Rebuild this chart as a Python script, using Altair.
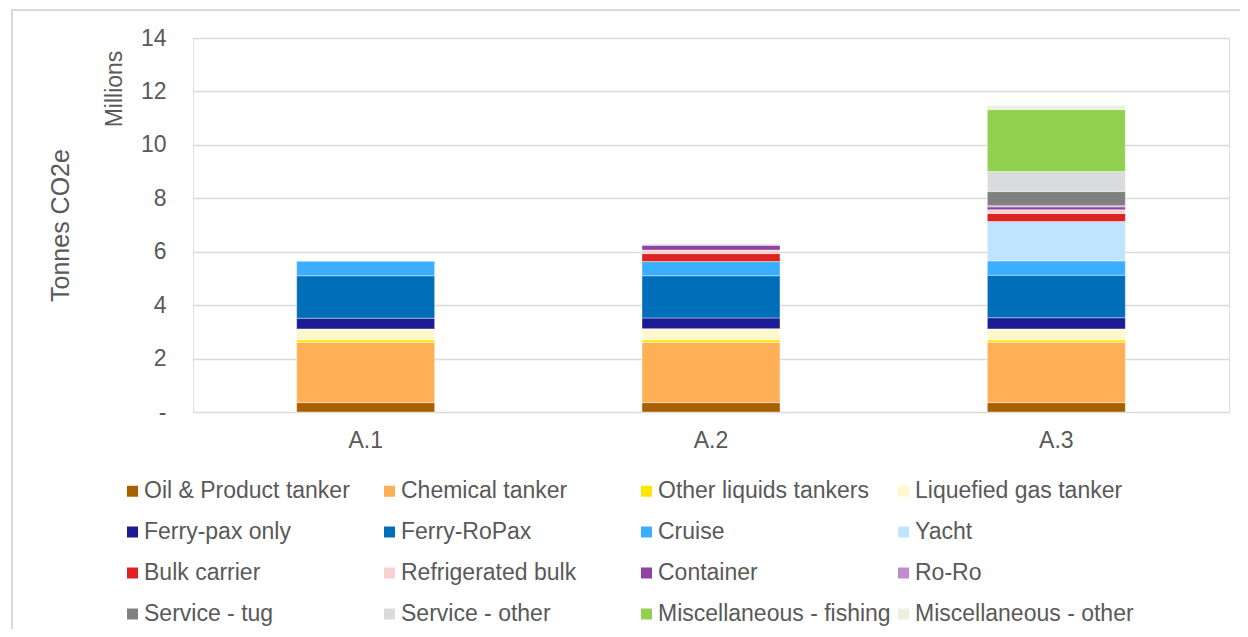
import altair as alt
import pandas as pd

scenarios = ["A.1", "A.2", "A.3"]

categories = [
    "Oil & Product tanker", "Chemical tanker", "Other liquids tankers", "Liquefied gas tanker",
    "Ferry-pax only", "Ferry-RoPax", "Cruise", "Yacht",
    "Bulk carrier", "Refrigerated bulk", "Container", "Ro-Ro",
    "Service - tug", "Service - other", "Miscellaneous - fishing", "Miscellaneous - other",
]

colors = [
    "#A85F00", "#FFB057", "#FFE600", "#FFF8CC",
    "#1C1C94", "#006EB8", "#3BAEFF", "#BFE4FF",
    "#DD2222", "#F8D0D0", "#8E44A0", "#C48AD0",
    "#808080", "#DADBDD", "#92D050", "#EBF1DE",
]

# values in millions of tonnes CO2e for A.1, A.2, A.3
oil_product = [0.35, 0.35, 0.35]
chemical = [2.25, 2.25, 2.26]
other_liquids = [0.10, 0.10, 0.09]
liquefied_gas = [0.41, 0.42, 0.41]
ferry_pax = [0.40, 0.40, 0.42]
ferry_ropax = [1.59, 1.58, 1.59]
cruise = [0.54, 0.53, 0.54]
yacht = [0.0, 0.0, 1.47]
bulk = [0.0, 0.30, 0.30]
refrigerated = [0.0, 0.13, 0.14]
container = [0.0, 0.18, 0.11]
roro = [0.0, 0.02, 0.04]
service_tug = [0.0, 0.0, 0.53]
service_other = [0.0, 0.0, 0.75]
misc_fishing = [0.0, 0.0, 2.32]
misc_other = [0.0, 0.0, 0.15]

series = [oil_product, chemical, other_liquids, liquefied_gas,
          ferry_pax, ferry_ropax, cruise, yacht,
          bulk, refrigerated, container, roro,
          service_tug, service_other, misc_fishing, misc_other]

y_ticks = [0, 2, 4, 6, 8, 10, 12, 14]

rows = []
for i, (cat, vals) in enumerate(zip(categories, series)):
    for sc, v in zip(scenarios, vals):
        if v > 0:
            rows.append({"scenario": sc, "category": cat, "value": v, "idx": i})
df = pd.DataFrame(rows)

FONT = "Liberation Sans"
GRAY = "#595959"
W, H = 1036, 374

bars = alt.Chart(df).mark_bar(size=138, stroke="white", strokeWidth=0.4).encode(
    x=alt.X("scenario:N", sort=scenarios,
            scale=alt.Scale(paddingInner=0, paddingOuter=0),
            axis=alt.Axis(title=None, labelAngle=0, domain=False, ticks=False, tickSize=0,
                          labelPadding=17, labelFontSize=23, labelColor=GRAY, labelFont=FONT,
                          grid=False)),
    y=alt.Y("value:Q", stack="zero",
            scale=alt.Scale(domain=[0, 14], nice=False),
            axis=alt.Axis(values=y_ticks, title="Tonnes CO2e",
                          labelExpr="datum.value == 0 ? '-\u00a0\u00a0' : datum.label",
                          domain=False, ticks=False, tickSize=0, labelPadding=27,
                          labelFontSize=23, labelColor=GRAY, labelFont=FONT,
                          gridColor="#D9D9D9", gridWidth=1.5,
                          titleFontSize=25, titleColor=GRAY, titleFont=FONT,
                          titleFontWeight="normal", titleAngle=270, titleX=-125,
                          titleY=H / 2, titleAlign="center", titleBaseline="alphabetic")),
    color=alt.Color("category:N", sort=categories,
                    scale=alt.Scale(domain=categories, range=colors),
                    legend=alt.Legend(title=None, orient="none", legendX=-72, legendY=441.5,
                                      direction="horizontal",
                                      columns=4, gridAlign="all", columnPadding=1,
                                      rowPadding=17, symbolType="square", symbolSize=121,
                                      symbolStrokeWidth=0, labelFontSize=23,
                                      labelColor=GRAY, labelFont=FONT, labelOffset=0,
                                      labelLimit=400)),
    order=alt.Order("idx:Q", sort="ascending"),
)

millions = alt.Chart(pd.DataFrame({"t": ["Millions"]})).mark_text(
    angle=270, align="center", baseline="alphabetic", fontSize=23, font=FONT, color=GRAY
).encode(text="t:N", x=alt.value(-71), y=alt.value(51))

border = alt.Chart(pd.DataFrame({"a": [0]})).mark_rect(
    fillOpacity=0, stroke="#D9D9D9", strokeWidth=2
).encode(x=alt.value(-181), x2=alt.value(1200), y=alt.value(-28), y2=alt.value(700))

chart = alt.layer(border, bars, millions).properties(
    width=W, height=H,
    autosize=alt.AutoSizeParams(type="none"),
    padding={"left": 185, "top": 30, "right": 11, "bottom": 217},
).configure_view(stroke=None).configure(background="white")

chart.save("out.html", embed_options={"renderer": "svg", "actions": False})
